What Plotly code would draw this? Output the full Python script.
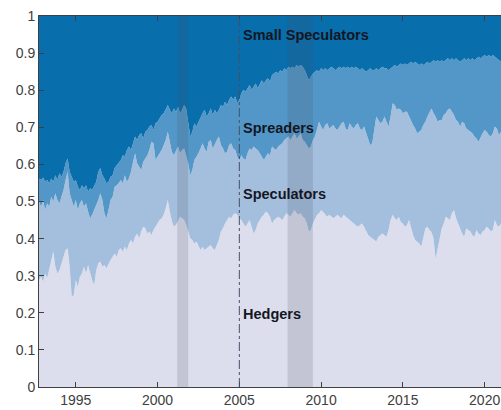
import numpy as np
import plotly.graph_objects as go

# Observations every 1/8 year, decimal years 1992.75 .. 2021.00
start_year = 1992.75
step = 0.125

# cumulative boundaries (share of open interest)
hedgers_top = [
    0.288, 0.297, 0.284, 0.306, 0.293, 0.315, 0.342, 0.365, 0.324, 0.306,
    0.315, 0.333, 0.351, 0.369, 0.374, 0.324, 0.243, 0.248, 0.288, 0.270,
    0.297, 0.306, 0.324, 0.306, 0.329, 0.306, 0.288, 0.275, 0.315, 0.333,
    0.338, 0.324, 0.329, 0.320, 0.333, 0.342, 0.351, 0.360, 0.351, 0.369,
    0.374, 0.365, 0.378, 0.369, 0.387, 0.396, 0.387, 0.405, 0.414, 0.401,
    0.419, 0.432, 0.428, 0.414, 0.419, 0.410, 0.423,
    0.432, 0.441, 0.450, 0.455, 0.464, 0.482, 0.504, 0.473, 0.446, 0.432,
    0.437, 0.446, 0.459, 0.455, 0.450, 0.437, 0.419, 0.401, 0.396, 0.387,
    0.392, 0.378, 0.369, 0.378, 0.369, 0.374, 0.378, 0.383, 0.374, 0.369,
    0.383, 0.396, 0.419, 0.428, 0.441, 0.450, 0.459, 0.455, 0.464, 0.468,
    0.464, 0.455, 0.450, 0.441, 0.432, 0.441, 0.450, 0.432, 0.414, 0.423,
    0.441, 0.450, 0.459, 0.464, 0.473, 0.468, 0.459,
    0.441, 0.450, 0.455, 0.459, 0.455, 0.450, 0.459, 0.468, 0.464, 0.459,
    0.468, 0.477, 0.468, 0.464, 0.468, 0.459, 0.455, 0.441, 0.419, 0.423,
    0.441, 0.455, 0.464, 0.468, 0.477, 0.472, 0.464, 0.459, 0.464, 0.459,
    0.455, 0.459, 0.464, 0.459, 0.455, 0.464, 0.459, 0.455, 0.450, 0.445,
    0.441, 0.436, 0.432, 0.436, 0.441, 0.432, 0.419, 0.410, 0.405, 0.401,
    0.396, 0.392, 0.405, 0.410, 0.414, 0.410, 0.405,
    0.423, 0.450, 0.464, 0.455, 0.450, 0.459, 0.445, 0.441, 0.432, 0.436,
    0.450, 0.427, 0.410, 0.396, 0.392, 0.387, 0.378, 0.405, 0.427, 0.432,
    0.423, 0.418, 0.400, 0.345, 0.372, 0.405, 0.427, 0.441, 0.459, 0.455,
    0.450, 0.468, 0.477, 0.455, 0.441, 0.423, 0.414, 0.405, 0.427, 0.423,
    0.419, 0.410, 0.405, 0.423, 0.414, 0.410, 0.419, 0.423, 0.432, 0.427,
    0.419, 0.423, 0.450, 0.436, 0.432, 0.441,
]
speculators_top = [
    0.500, 0.486, 0.504, 0.477, 0.495, 0.486, 0.513, 0.500, 0.522, 0.504,
    0.495, 0.513, 0.531, 0.558, 0.580, 0.522, 0.500, 0.486, 0.504, 0.477,
    0.495, 0.504, 0.486, 0.495, 0.473, 0.455, 0.464, 0.477, 0.495, 0.504,
    0.522, 0.504, 0.468, 0.455, 0.477, 0.504, 0.513, 0.540, 0.544, 0.549,
    0.558, 0.549, 0.571, 0.553, 0.563, 0.580, 0.607, 0.630, 0.603, 0.594,
    0.585, 0.607, 0.616, 0.625, 0.639, 0.661, 0.657,
    0.612, 0.621, 0.630, 0.639, 0.652, 0.666, 0.688, 0.657, 0.634, 0.625,
    0.639, 0.648, 0.630, 0.639, 0.643, 0.625, 0.603, 0.571, 0.585, 0.612,
    0.621, 0.630, 0.643, 0.657, 0.643, 0.634, 0.661, 0.666, 0.643, 0.657,
    0.666, 0.675, 0.652, 0.643, 0.630, 0.634, 0.652, 0.657, 0.643, 0.639,
    0.621, 0.612, 0.625, 0.616, 0.612, 0.630, 0.643, 0.639, 0.648, 0.643,
    0.639, 0.630, 0.621, 0.612, 0.621, 0.630, 0.625,
    0.648, 0.643, 0.639, 0.648, 0.652, 0.657, 0.666, 0.670, 0.675, 0.666,
    0.675, 0.684, 0.670, 0.675, 0.684, 0.666, 0.661, 0.652, 0.643, 0.648,
    0.666, 0.675, 0.693, 0.715, 0.702, 0.693, 0.706, 0.711, 0.697, 0.702,
    0.706, 0.697, 0.693, 0.702, 0.711, 0.715, 0.697, 0.693, 0.711, 0.702,
    0.697, 0.706, 0.711, 0.697, 0.693, 0.702, 0.684, 0.666, 0.652, 0.657,
    0.693, 0.729, 0.720, 0.711, 0.715, 0.729, 0.715,
    0.702, 0.729, 0.765, 0.760, 0.747, 0.751, 0.747, 0.738, 0.742, 0.742,
    0.729, 0.720, 0.706, 0.697, 0.684, 0.688, 0.693, 0.706, 0.715, 0.729,
    0.742, 0.751, 0.738, 0.729, 0.715, 0.720, 0.720, 0.733, 0.738, 0.747,
    0.751, 0.742, 0.733, 0.720, 0.715, 0.702, 0.715, 0.711, 0.697, 0.693,
    0.688, 0.684, 0.675, 0.670, 0.661, 0.675, 0.684, 0.693, 0.688, 0.679,
    0.675, 0.684, 0.702, 0.697, 0.679, 0.688,
]
spreaders_top = [
    0.562, 0.558, 0.565, 0.553, 0.558, 0.549, 0.562, 0.553, 0.571, 0.558,
    0.576, 0.567, 0.580, 0.603, 0.616, 0.580, 0.567, 0.553, 0.558, 0.540,
    0.531, 0.544, 0.536, 0.544, 0.526, 0.536, 0.531, 0.544, 0.553, 0.580,
    0.590, 0.571, 0.562, 0.549, 0.553, 0.567, 0.571, 0.590, 0.598, 0.607,
    0.612, 0.625, 0.621, 0.639, 0.648, 0.639, 0.661, 0.675, 0.666, 0.679,
    0.684, 0.670, 0.688, 0.693, 0.702, 0.706, 0.693,
    0.711, 0.715, 0.724, 0.733, 0.738, 0.751, 0.760, 0.747, 0.738, 0.751,
    0.742, 0.755, 0.738, 0.747, 0.760, 0.751, 0.711, 0.675, 0.688, 0.711,
    0.702, 0.715, 0.729, 0.738, 0.747, 0.729, 0.738, 0.751, 0.733, 0.747,
    0.738, 0.747, 0.760, 0.755, 0.769, 0.760, 0.774, 0.783, 0.774, 0.783,
    0.765, 0.774, 0.792, 0.801, 0.796, 0.805, 0.814, 0.801, 0.810, 0.818,
    0.805, 0.818, 0.827, 0.818, 0.827, 0.832, 0.823,
    0.841, 0.845, 0.850, 0.845, 0.854, 0.850, 0.859, 0.854, 0.863, 0.859,
    0.863, 0.859, 0.868, 0.863, 0.868, 0.863, 0.854, 0.841, 0.827, 0.836,
    0.845, 0.850, 0.854, 0.850, 0.859, 0.854, 0.859, 0.854, 0.859, 0.863,
    0.859, 0.854, 0.859, 0.863, 0.859, 0.863, 0.859, 0.863, 0.859, 0.863,
    0.859, 0.863, 0.859, 0.854, 0.859, 0.854, 0.850, 0.854, 0.859, 0.854,
    0.854, 0.859, 0.854, 0.859, 0.863, 0.859, 0.859,
    0.854, 0.859, 0.863, 0.868, 0.863, 0.868, 0.872, 0.868, 0.872, 0.868,
    0.872, 0.877, 0.872, 0.877, 0.872, 0.868, 0.872, 0.868, 0.872, 0.877,
    0.872, 0.877, 0.881, 0.877, 0.881, 0.877, 0.881, 0.877, 0.881, 0.886,
    0.881, 0.886, 0.881, 0.886, 0.881, 0.877, 0.881, 0.886, 0.881, 0.886,
    0.881, 0.886, 0.881, 0.886, 0.890, 0.886, 0.890, 0.895, 0.890, 0.895,
    0.890, 0.895, 0.890, 0.886, 0.881, 0.877,
]

recessions = [(2001.2, 2001.87), (2007.95, 2009.5)]
marker_year = 2005.0

group_labels = ["Small Speculators", "Spreaders", "Speculators", "Hedgers"]
label_y = [0.95, 0.698, 0.52, 0.197]

x_ticks = [1995, 2000, 2005, 2010, 2015, 2020]
y_ticks = [0, 0.1, 0.2, 0.3, 0.4, 0.5, 0.6, 0.7, 0.8, 0.9, 1]
y_tick_text = ["0", "0.1", "0.2", "0.3", "0.4", "0.5", "0.6", "0.7", "0.8", "0.9", "1"]

years = [start_year + step * i for i in range(len(hedgers_top))]
h = np.array(hedgers_top)
s = np.array(speculators_top)
p = np.array(spreaders_top)
shares = {
    "Hedgers": h,
    "Speculators": s - h,
    "Spreaders": p - s,
    "Small Speculators": 1 - p,
}
colors = {
    "Hedgers": "rgb(220,222,237)",
    "Speculators": "rgb(164,191,221)",
    "Spreaders": "rgb(82,151,199)",
    "Small Speculators": "rgb(8,110,172)",
}

fig = go.Figure()
for name in ["Hedgers", "Speculators", "Spreaders", "Small Speculators"]:
    fig.add_trace(go.Scatter(
        x=years, y=shares[name], name=name, stackgroup="one",
        mode="lines", line=dict(width=0, color=colors[name]),
        fillcolor=colors[name], hoverinfo="skip",
    ))

for x0, x1 in recessions:
    fig.add_shape(type="rect", xref="x", yref="y", x0=x0, x1=x1, y0=0, y1=1,
                  fillcolor="rgba(70,75,95,0.17)", line=dict(width=0), layer="above")

fig.add_shape(type="line", xref="x", yref="y", x0=marker_year, x1=marker_year, y0=0, y1=1,
              line=dict(color="rgb(70,80,105)", width=1, dash="dashdot"), layer="above")

for txt, yy in zip(group_labels, label_y):
    fig.add_annotation(x=marker_year + 0.1, y=yy, xref="x", yref="y", text="<b>%s</b>" % txt,
                       showarrow=False, xanchor="left", yanchor="middle",
                       font=dict(family="Liberation Sans, Arial", size=14.5, color="rgb(20,22,35)"))

fig.update_layout(
    width=501, height=410,
    margin=dict(l=39, r=0, t=16, b=23),
    paper_bgcolor="white", plot_bgcolor="white",
    showlegend=False,
    font=dict(family="Liberation Sans, Arial", size=14, color="rgb(64,64,64)"),
)
fig.update_xaxes(
    range=[1992.75, 2021.0], tickvals=x_ticks, ticktext=[str(t) for t in x_ticks],
    ticks="inside", ticklen=5, tickcolor="rgb(64,64,64)", showline=True, linecolor="rgb(64,64,64)",
    linewidth=1, mirror="ticks", showgrid=False, zeroline=False,
    tickfont=dict(size=14, color="rgb(64,64,64)"),
)
fig.update_yaxes(
    range=[0, 1], tickvals=y_ticks, ticktext=y_tick_text,
    ticks="inside", ticklen=5, tickcolor="rgb(64,64,64)", showline=True, linecolor="rgb(64,64,64)",
    linewidth=1, mirror=False, showgrid=False, zeroline=False,
    tickfont=dict(size=14, color="rgb(64,64,64)"),
)

fig.write_html("out.html", config={"displayModeBar": False})
with open("out.html", "r", encoding="utf-8") as f:
    page = f.read()
page = page.replace("<head>", "<head><style>html,body{margin:0;padding:0;overflow:hidden;}</style>", 1)
with open("out.html", "w", encoding="utf-8") as f:
    f.write(page)
